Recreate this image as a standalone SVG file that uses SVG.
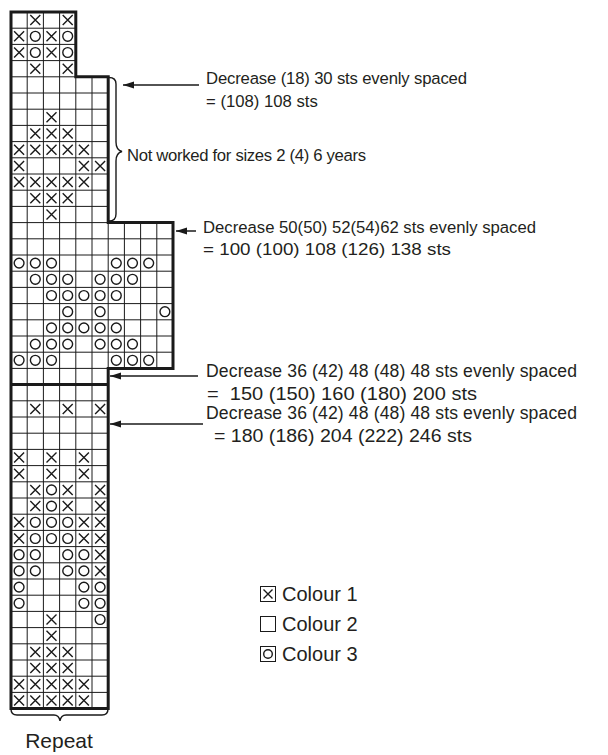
<svg xmlns="http://www.w3.org/2000/svg" xmlns:xlink="http://www.w3.org/1999/xlink" width="608" height="755" viewBox="0 0 608 755">
<style>
.grid{fill:none;stroke:#1a1a1a;stroke-width:1}
.outline{fill:none;stroke:#1a1a1a;stroke-width:3;stroke-linejoin:miter}
.sym{fill:none;stroke:#1a1a1a;stroke-width:1.4}
.conn{fill:none;stroke:#1a1a1a;stroke-width:1.5}
.brace{fill:none;stroke:#1a1a1a;stroke-width:1.4}
.t{font-family:"Liberation Sans",Arial,sans-serif;font-size:16.7px;fill:#231f20}
.lg{font-family:"Liberation Sans",Arial,sans-serif;font-size:20px;fill:#231f20}
.rp{font-family:"Liberation Sans",Arial,sans-serif;font-size:21px;fill:#231f20}
</style>
<defs>
<g id="X"><path class="sym" d="M3.1 3.1L13.1 13.1M13.1 3.1L3.1 13.1"/></g>
<g id="O"><circle class="sym" cx="8.1" cy="8.1" r="4.9"/></g>
<marker id="ah" viewBox="0 0 11 8" refX="11" refY="4" markerWidth="11" markerHeight="8" markerUnits="userSpaceOnUse" orient="auto-start-reverse"><path d="M0 0.5L11 4L0 7.5Z" fill="#1a1a1a"/></marker>
</defs>
<rect width="608" height="755" fill="#fff"/>
<g id="chart">
<path class="grid" d="M27.2 12V708.6M43.4 12V708.6M59.6 12V708.6M75.8 76.8V708.6M92 76.8V708.6M108.2 222.6V368.4M124.4 222.6V368.4M140.6 222.6V368.4M156.8 222.6V368.4
M11 28.2H75.8M11 44.4H75.8M11 60.6H75.8M11 76.8H75.8
M11 93H108.2M11 109.2H108.2M11 125.4H108.2M11 141.6H108.2M11 157.8H108.2M11 174H108.2M11 190.2H108.2M11 206.4H108.2M11 222.6H108.2
M11 238.8H173M11 255H173M11 271.2H173M11 287.4H173M11 303.6H173M11 319.8H173M11 336H173M11 352.2H173M11 368.4H108.2
M11 400.8H108.2M11 417H108.2M11 433.2H108.2M11 449.4H108.2M11 465.6H108.2M11 481.8H108.2M11 498H108.2M11 514.2H108.2M11 530.4H108.2M11 546.6H108.2M11 562.8H108.2M11 579H108.2M11 595.2H108.2M11 611.4H108.2M11 627.6H108.2M11 643.8H108.2M11 660H108.2M11 676.2H108.2M11 692.4H108.2"/>
<path class="outline" d="M11 12H75.8V76.8H108.2V222.6H173V368.4H108.2V708.6H11Z"/>
<path class="outline" stroke-width="2.5" d="M11 384.6H108.2"/>
<g id="symbols">
<use href="#X" x="27.2" y="12"/><use href="#X" x="59.6" y="12"/>
<use href="#X" x="11" y="28.2"/><use href="#O" x="27.2" y="28.2"/><use href="#X" x="43.4" y="28.2"/><use href="#O" x="59.6" y="28.2"/>
<use href="#X" x="11" y="44.4"/><use href="#O" x="27.2" y="44.4"/><use href="#X" x="43.4" y="44.4"/><use href="#O" x="59.6" y="44.4"/>
<use href="#X" x="27.2" y="60.6"/><use href="#X" x="59.6" y="60.6"/>
<use href="#X" x="43.4" y="109.2"/>
<use href="#X" x="27.2" y="125.4"/><use href="#X" x="43.4" y="125.4"/><use href="#X" x="59.6" y="125.4"/>
<use href="#X" x="11" y="141.6"/><use href="#X" x="27.2" y="141.6"/><use href="#X" x="43.4" y="141.6"/><use href="#X" x="59.6" y="141.6"/><use href="#X" x="75.8" y="141.6"/>
<use href="#X" x="11" y="157.8"/><use href="#X" x="75.8" y="157.8"/><use href="#X" x="92" y="157.8"/>
<use href="#X" x="11" y="174"/><use href="#X" x="27.2" y="174"/><use href="#X" x="43.4" y="174"/><use href="#X" x="59.6" y="174"/><use href="#X" x="75.8" y="174"/>
<use href="#X" x="27.2" y="190.2"/><use href="#X" x="43.4" y="190.2"/><use href="#X" x="59.6" y="190.2"/>
<use href="#X" x="43.4" y="206.4"/>
<use href="#O" x="11" y="255"/><use href="#O" x="27.2" y="255"/><use href="#O" x="43.4" y="255"/><use href="#O" x="108.2" y="255"/><use href="#O" x="124.4" y="255"/><use href="#O" x="140.6" y="255"/>
<use href="#O" x="27.2" y="271.2"/><use href="#O" x="43.4" y="271.2"/><use href="#O" x="59.6" y="271.2"/><use href="#O" x="92" y="271.2"/><use href="#O" x="108.2" y="271.2"/><use href="#O" x="124.4" y="271.2"/>
<use href="#O" x="43.4" y="287.4"/><use href="#O" x="59.6" y="287.4"/><use href="#O" x="75.8" y="287.4"/><use href="#O" x="92" y="287.4"/><use href="#O" x="108.2" y="287.4"/>
<use href="#O" x="59.6" y="303.6"/><use href="#O" x="92" y="303.6"/><use href="#O" x="156.8" y="303.6"/>
<use href="#O" x="43.4" y="319.8"/><use href="#O" x="59.6" y="319.8"/><use href="#O" x="75.8" y="319.8"/><use href="#O" x="92" y="319.8"/><use href="#O" x="108.2" y="319.8"/>
<use href="#O" x="27.2" y="336"/><use href="#O" x="43.4" y="336"/><use href="#O" x="59.6" y="336"/><use href="#O" x="92" y="336"/><use href="#O" x="108.2" y="336"/><use href="#O" x="124.4" y="336"/>
<use href="#O" x="11" y="352.2"/><use href="#O" x="27.2" y="352.2"/><use href="#O" x="43.4" y="352.2"/><use href="#O" x="108.2" y="352.2"/><use href="#O" x="124.4" y="352.2"/><use href="#O" x="140.6" y="352.2"/>
<use href="#X" x="27.2" y="400.8"/><use href="#X" x="59.6" y="400.8"/><use href="#X" x="92" y="400.8"/>
<use href="#X" x="11" y="449.4"/><use href="#X" x="43.4" y="449.4"/><use href="#X" x="75.8" y="449.4"/>
<use href="#X" x="11" y="465.6"/><use href="#X" x="43.4" y="465.6"/><use href="#X" x="75.8" y="465.6"/>
<use href="#X" x="27.2" y="481.8"/><use href="#O" x="43.4" y="481.8"/><use href="#X" x="59.6" y="481.8"/><use href="#X" x="92" y="481.8"/>
<use href="#X" x="27.2" y="498"/><use href="#O" x="43.4" y="498"/><use href="#X" x="59.6" y="498"/><use href="#X" x="92" y="498"/>
<use href="#X" x="11" y="514.2"/><use href="#O" x="27.2" y="514.2"/><use href="#O" x="43.4" y="514.2"/><use href="#O" x="59.6" y="514.2"/><use href="#X" x="75.8" y="514.2"/><use href="#X" x="92" y="514.2"/>
<use href="#X" x="11" y="530.4"/><use href="#O" x="27.2" y="530.4"/><use href="#O" x="43.4" y="530.4"/><use href="#O" x="59.6" y="530.4"/><use href="#X" x="75.8" y="530.4"/><use href="#X" x="92" y="530.4"/>
<use href="#O" x="11" y="546.6"/><use href="#O" x="27.2" y="546.6"/><use href="#O" x="59.6" y="546.6"/><use href="#O" x="75.8" y="546.6"/><use href="#X" x="92" y="546.6"/>
<use href="#O" x="11" y="562.8"/><use href="#O" x="27.2" y="562.8"/><use href="#O" x="59.6" y="562.8"/><use href="#O" x="75.8" y="562.8"/><use href="#X" x="92" y="562.8"/>
<use href="#O" x="11" y="579"/><use href="#O" x="75.8" y="579"/><use href="#O" x="92" y="579"/>
<use href="#O" x="11" y="595.2"/><use href="#O" x="75.8" y="595.2"/><use href="#O" x="92" y="595.2"/>
<use href="#X" x="43.4" y="611.4"/><use href="#O" x="92" y="611.4"/>
<use href="#X" x="43.4" y="627.6"/>
<use href="#X" x="27.2" y="643.8"/><use href="#X" x="43.4" y="643.8"/><use href="#X" x="59.6" y="643.8"/>
<use href="#X" x="27.2" y="660"/><use href="#X" x="43.4" y="660"/><use href="#X" x="59.6" y="660"/>
<use href="#X" x="11" y="676.2"/><use href="#X" x="27.2" y="676.2"/><use href="#X" x="43.4" y="676.2"/><use href="#X" x="59.6" y="676.2"/><use href="#X" x="75.8" y="676.2"/>
<use href="#X" x="11" y="692.4"/><use href="#X" x="27.2" y="692.4"/><use href="#X" x="43.4" y="692.4"/><use href="#X" x="59.6" y="692.4"/><use href="#X" x="75.8" y="692.4"/>
</g>
</g>
<g id="connectors">
<path class="conn" marker-start="url(#ah)" d="M123 85H199"/>
<path class="conn" marker-start="url(#ah)" d="M176 231H196"/>
<path class="conn" marker-start="url(#ah)" d="M110 376H198"/>
<path class="conn" marker-start="url(#ah)" d="M110 424H203"/>
</g>
<g id="brace-right">
<path class="brace" d="M109 77.5Q116 77.5 116 84V142Q116 150 122 151.5Q116 153 116 161V214Q116 221 109 221"/>
<text class="t" x="127" y="161" font-size="16" textLength="239">Not worked for sizes 2 (4) 6 years</text>
</g>
<g id="brace-bottom">
<path class="brace" d="M11 709Q11 715 17 715H54Q59 715 60 721Q61 715 66 715H102Q108 715 108 709"/>
<text class="rp" x="59" y="748" text-anchor="middle">Repeat</text>
</g>
<g id="label-1">
<text class="t" x="206" y="84" textLength="261">Decrease (18) 30 sts evenly spaced</text>
<text class="t" x="206" y="107">= (108) 108 sts</text>
</g>
<g id="label-2">
<text class="t" x="203" y="233" textLength="333">Decrease 50(50) 52(54)62 sts evenly spaced</text>
<text class="t" x="203" y="255" style="font-size:17.4px" textLength="248" lengthAdjust="spacingAndGlyphs">= 100 (100) 108 (126) 138 sts</text>
</g>
<g id="label-3">
<text class="t" x="206" y="377" style="font-size:17.6px" textLength="371">Decrease 36 (42) 48 (48) 48 sts evenly spaced</text>
<text class="t" x="207" y="400" style="font-size:17.6px" textLength="270" lengthAdjust="spacingAndGlyphs" xml:space="preserve">=  150 (150) 160 (180) 200 sts</text>
</g>
<g id="label-4">
<text class="t" x="206" y="419" style="font-size:17.6px" textLength="371">Decrease 36 (42) 48 (48) 48 sts evenly spaced</text>
<text class="t" x="214" y="442" style="font-size:17.6px" textLength="258" lengthAdjust="spacingAndGlyphs">= 180 (186) 204 (222) 246 sts</text>
</g>
<g id="legend">
<g id="legend-1"><rect x="260.5" y="586.5" width="15" height="15" fill="none" stroke="#1a1a1a" stroke-width="1"/><path class="sym" d="M263.5 589.5L272.5 598.5M272.5 589.5L263.5 598.5"/><text class="lg" x="282" y="601">Colour 1</text></g>
<g id="legend-2"><rect x="260.5" y="616.5" width="15" height="15" fill="none" stroke="#1a1a1a" stroke-width="1"/><text class="lg" x="282" y="631">Colour 2</text></g>
<g id="legend-3"><rect x="260.5" y="646.5" width="15" height="15" fill="none" stroke="#1a1a1a" stroke-width="1"/><circle class="sym" cx="268" cy="654" r="4.3"/><text class="lg" x="282" y="661">Colour 3</text></g>
</g>
</svg>
